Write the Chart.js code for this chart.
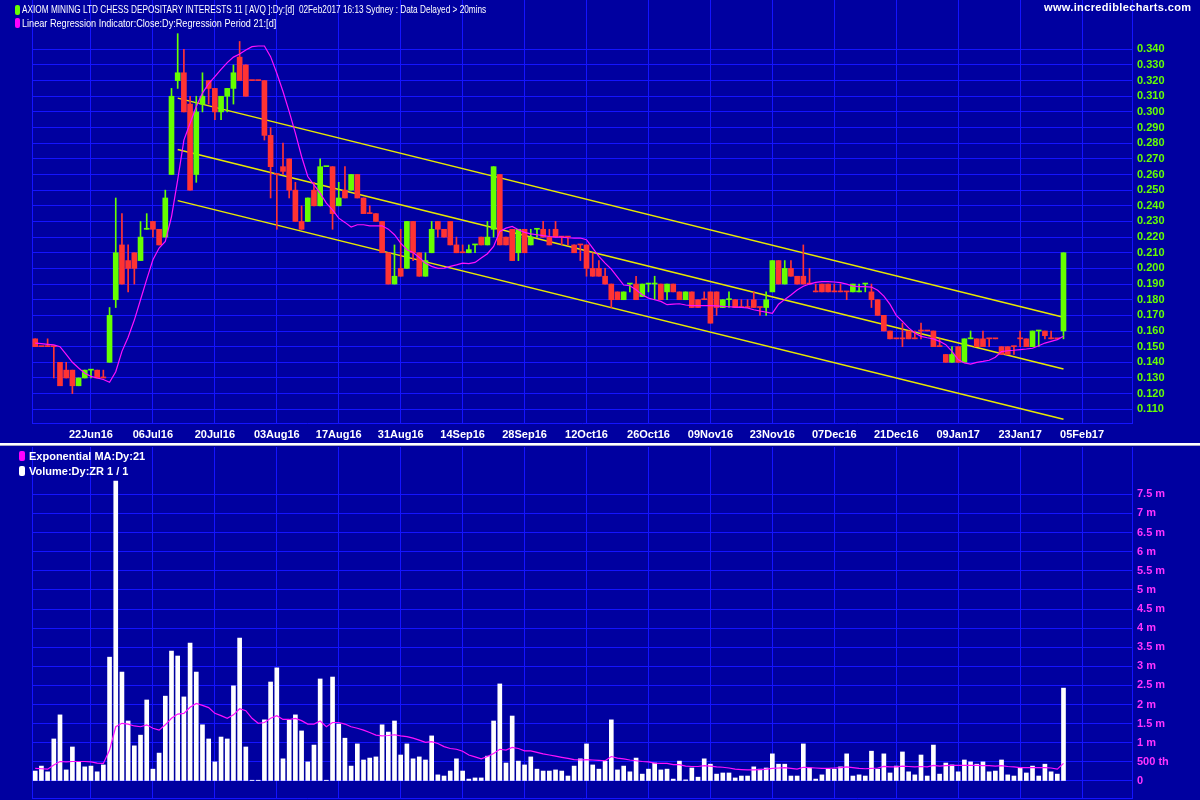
<!DOCTYPE html>
<html>
<head>
<meta charset="utf-8">
<script src="https://cdn.jsdelivr.net/npm/chart.js@4.4.1/dist/chart.umd.min.js"></script>
<style>
  html, body { margin: 0; padding: 0; background: #0000a0; }
  #wrap { position: relative; width: 1200px; height: 800px; overflow: hidden; background: #0000a0;
          font-family: "Liberation Sans", Arial, sans-serif; }
  #top { position: absolute; left: 0; top: 0; width: 1200px; height: 445px; }
  #bot { position: absolute; left: 0; top: 447px; width: 1200px; height: 353px; }
  .sep { position: absolute; left: 0; top: 443px; width: 1200px; height: 2px; background: #ffffff; }
  .sep2 { position: absolute; left: 0; top: 445px; width: 1200px; height: 1px; background: #a8a8c8; }
  .lg { position: absolute; color: #fff; font-size: 11px; line-height: 13px; white-space: nowrap; z-index: 5; }
  .narrow { transform: scaleX(0.83); transform-origin: left center; }
  .narrower { transform: scaleX(0.75); transform-origin: left center; }
  .mk { position: absolute; width: 5px; height: 10px; border-radius: 2px; z-index: 5; }
</style>
</head>
<body>
<div id="wrap">
  <div id="top"><canvas id="priceChart"></canvas></div>
  <div class="sep"></div><div class="sep2"></div>
  <div id="bot"><canvas id="volChart"></canvas></div>

  <div class="mk" style="left:15px;top:5px;background:#66ff00"></div>
  <div class="lg narrower" style="left:22px;top:3px">AXIOM MINING LTD CHESS DEPOSITARY INTERESTS 11 [ AVQ ]:Dy:[d]&nbsp; 02Feb2017 16:13 Sydney : Data Delayed &gt; 20mins</div>
  <div class="mk" style="left:15px;top:18px;background:#ff00ff"></div>
  <div class="lg narrow" style="left:22px;top:17px">Linear Regression Indicator:Close:Dy:Regression Period 21:[d]</div>
  <div class="lg" style="left:1044px;top:1px;font-weight:bold;letter-spacing:0.35px">www.incrediblecharts.com</div>

  <div class="mk" style="left:19px;top:451px;width:6px;background:#ff00ff"></div>
  <div class="lg" style="left:29px;top:450px;font-weight:bold">Exponential MA:Dy:21</div>
  <div class="mk" style="left:19px;top:466px;width:6px;background:#ffffff"></div>
  <div class="lg" style="left:29px;top:465px;font-weight:bold">Volume:Dy:ZR 1 / 1</div>
</div>

<script>
const UP = "#66ff00";
const DOWN = "#ff3333";
const GRID = "#1414ff";

// x axis: bar index, labelled every 10 trading days
const tickIdx = [9, 19, 29, 39, 49, 59, 69, 79, 89, 99, 109, 119, 129, 139, 149, 159, 169];
const tickText = ["22Jun16", "06Jul16", "20Jul16", "03Aug16", "17Aug16", "31Aug16", "14Sep16", "28Sep16",
  "12Oct16", "26Oct16", "09Nov16", "23Nov16", "07Dec16", "21Dec16", "09Jan17", "23Jan17", "05Feb17"];

const priceTicks = [0.11, 0.12, 0.13, 0.14, 0.15, 0.16, 0.17, 0.18, 0.19, 0.2, 0.21, 0.22,
  0.23, 0.24, 0.25, 0.26, 0.27, 0.28, 0.29, 0.3, 0.31, 0.32, 0.33, 0.34];
const volTicks = [0, 0.5, 1, 1.5, 2, 2.5, 3, 3.5, 4, 4.5, 5, 5.5, 6, 6.5, 7, 7.5];
const volTickText = ["0", "500 th", "1 m", "1.5 m", "2 m", "2.5 m", "3 m", "3.5 m", "4 m", "4.5 m",
  "5 m", "5.5 m", "6 m", "6.5 m", "7 m", "7.5 m"];

// daily candles
const openP = [
  .155,.150,.150,.150,.140,.135,.135,.125,.130,.135,.135,.130,.140,.180,.215,.205,.210,.205,.225,.230,
  .225,.220,.260,.320,.325,.305,.260,.305,.320,.315,.300,.310,.315,.335,.330,.320,.320,.320,.285,.260,
  .265,.270,.250,.230,.230,.250,.240,.265,.265,.240,.250,.250,.260,.245,.235,.235,.230,.210,.190,.200,
  .200,.230,.210,.195,.210,.230,.225,.230,.215,.210,.210,.215,.220,.215,.225,.260,.220,.225,.210,.225,
  .215,.225,.225,.220,.225,.220,.220,.215,.215,.215,.200,.200,.195,.190,.185,.180,.190,.190,.182,.190,
  .190,.190,.185,.190,.185,.180,.185,.180,.180,.185,.185,.175,.180,.180,.175,.175,.180,.175,.175,.185,
  .205,.190,.200,.195,.195,.190,.185,.190,.190,.185,.185,.185,.185,.185,.190,.185,.180,.170,.160,.155,
  .155,.160,.155,.160,.160,.160,.150,.145,.140,.150,.140,.155,.155,.155,.155,.155,.150,.150,.150,.155,
  .155,.150,.160,.160,.155,.155,.160];
const highP = [
  .155,.150,.155,.150,.140,.140,.135,.130,.135,.135,.135,.135,.175,.245,.235,.215,.210,.230,.235,.230,
  .225,.250,.315,.350,.340,.310,.310,.325,.320,.315,.310,.315,.330,.345,.330,.320,.320,.320,.290,.260,
  .280,.270,.255,.240,.245,.255,.270,.265,.265,.255,.265,.260,.260,.245,.240,.235,.230,.210,.215,.225,
  .230,.230,.210,.210,.230,.230,.225,.230,.220,.215,.215,.215,.220,.230,.265,.260,.220,.225,.225,.225,
  .225,.225,.230,.225,.230,.220,.220,.215,.215,.215,.210,.205,.200,.190,.185,.185,.190,.195,.190,.190,
  .195,.190,.190,.190,.185,.185,.185,.180,.185,.185,.185,.180,.185,.180,.180,.180,.185,.175,.185,.205,
  .205,.205,.205,.195,.215,.200,.190,.190,.190,.190,.190,.185,.190,.190,.190,.190,.180,.170,.160,.155,
  .165,.160,.160,.165,.160,.160,.155,.145,.150,.150,.155,.160,.155,.160,.155,.155,.150,.150,.150,.160,
  .155,.160,.160,.160,.160,.155,.210];
const lowP = [
  .150,.150,.150,.130,.125,.130,.120,.125,.130,.130,.130,.130,.140,.175,.190,.185,.190,.205,.225,.220,
  .215,.220,.260,.315,.300,.250,.255,.300,.305,.295,.295,.300,.305,.320,.310,.320,.320,.282,.245,.225,
  .260,.245,.230,.225,.230,.240,.240,.265,.225,.240,.245,.250,.245,.235,.235,.230,.210,.190,.190,.195,
  .200,.205,.195,.195,.210,.220,.220,.215,.210,.210,.210,.210,.215,.215,.220,.215,.215,.205,.205,.210,
  .215,.220,.220,.215,.220,.215,.215,.210,.205,.195,.195,.195,.190,.175,.180,.180,.185,.180,.182,.185,
  .180,.180,.180,.185,.180,.180,.175,.175,.180,.165,.170,.175,.175,.175,.175,.175,.175,.170,.170,.185,
  .190,.190,.195,.190,.190,.190,.185,.185,.185,.185,.185,.180,.185,.185,.185,.175,.170,.160,.155,.155,
  .150,.155,.155,.155,.160,.150,.150,.140,.140,.140,.140,.155,.150,.150,.150,.155,.145,.145,.145,.150,
  .150,.150,.150,.155,.155,.155,.155];
const closeP = [
  .150,.150,.150,.150,.125,.130,.125,.130,.135,.135,.130,.130,.170,.210,.190,.200,.200,.220,.225,.225,
  .215,.245,.310,.325,.300,.250,.300,.310,.315,.300,.310,.315,.325,.320,.310,.320,.320,.285,.265,.260,
  .262,.250,.230,.225,.245,.240,.265,.265,.235,.245,.245,.260,.245,.235,.235,.230,.210,.190,.195,.195,
  .230,.210,.195,.205,.225,.225,.220,.215,.210,.210,.212,.215,.215,.220,.265,.215,.215,.205,.225,.210,
  .220,.225,.220,.215,.220,.220,.220,.210,.215,.200,.195,.195,.190,.180,.180,.185,.190,.180,.190,.190,
  .190,.180,.190,.185,.180,.185,.175,.175,.180,.165,.175,.180,.180,.175,.175,.175,.175,.175,.180,.205,
  .190,.200,.195,.190,.190,.190,.185,.185,.185,.185,.185,.185,.190,.185,.190,.180,.170,.160,.155,.155,
  .155,.155,.155,.160,.160,.150,.150,.140,.145,.140,.155,.155,.150,.150,.155,.155,.145,.145,.150,.155,
  .150,.160,.160,.157,.155,.155,.210];

// linear regression indicator (close, 21)
const lri = [
  .1523,.1519,.1515,.1511,.150,.145,.140,.1364,.133,.131,.130,.129,.1273,.134,.147,.156,.167,.180,.193,.2055,
  .213,.2172,.233,.2566,.282,.2928,.3034,.312,.318,.3226,.3272,.3315,.335,.337,.3396,.3417,.3421,.3421,.3353,.3247,
  .313,.3002,.2864,.2715,.2587,.2534,.2481,.2417,.2374,.2321,.2294,.2264,.2279,.2279,.2272,.2272,.2272,.2251,.2215,.2162,
  .2119,.2102,.207,.2034,.2013,.200,.2002,.2013,.2023,.2034,.203,.2038,.2066,.2094,.214,.2236,.2257,.2268,.2247,.223,
  .2221,.2215,.2209,.2204,.220,.220,.2196,.2194,.2194,.2183,.213,.2077,.2034,.1996,.1945,.1894,.1889,.1864,.1832,.181,
  .180,.1789,.1768,.1772,.1774,.1766,.1762,.1762,.1762,.1762,.176,.1757,.1755,.1753,.1751,.1747,.1736,.1728,.1721,.1713,
  .1771,.1802,.183,.1862,.1886,.190,.1911,.1915,.1915,.1913,.1909,.190,.1887,.1883,.1883,.1881,.186,.1823,.177,.170,
  .1662,.162,.1587,.1566,.1557,.155,.1534,.1513,.147,.1417,.1396,.1389,.140,.1406,.1413,.1432,.1468,.1474,.1477,.1481,
  .1485,.149,.1506,.1523,.1534,.1545,.1566];

// regression channel end points
const chanX = [23, 166];
const chanUpper = [0.3088, 0.1688];
const chanMid = [0.2760, 0.1357];
const chanLower = [0.2433, 0.1036];

// volume, millions
const volume = [
  .26,.39,.24,1.10,1.73,.29,.89,.50,.37,.39,.24,.42,3.24,7.85,2.85,1.57,.92,1.20,2.12,.31,
  .73,2.22,3.40,3.27,2.20,3.61,2.85,1.47,1.10,.50,1.15,1.10,2.49,3.74,.89,.02,.02,1.60,2.59,2.96,
  .58,1.60,1.73,1.31,.50,.94,2.67,.02,2.72,1.49,1.12,.39,.97,.55,.60,.63,1.47,1.28,1.57,.68,
  .97,.58,.63,.55,1.18,.16,.13,.26,.58,.26,.05,.08,.08,.65,1.57,2.54,.47,1.70,.52,.42,
  .63,.31,.26,.26,.29,.26,.13,.39,.58,.97,.42,.31,.52,1.60,.29,.39,.24,.60,.18,.31,
  .47,.29,.31,.05,.52,.03,.34,.10,.58,.44,.18,.21,.21,.08,.13,.13,.37,.31,.34,.71,
  .44,.44,.13,.13,.97,.34,.05,.16,.31,.31,.37,.71,.13,.16,.13,.78,.31,.71,.21,.39,
  .76,.24,.16,.68,.13,.94,.18,.47,.42,.24,.55,.50,.44,.50,.24,.26,.55,.16,.13,.34,
  .21,.39,.13,.44,.24,.18,2.43];

// exponential MA of volume (21)
const volEma = [
  .33,.32,.31,.42,.51,.50,.51,.51,.51,.50,.47,.46,.81,1.42,1.51,1.49,1.44,1.42,1.47,1.38,
  1.33,1.47,1.64,1.75,1.77,1.93,2.03,1.98,1.92,1.77,1.71,1.64,1.73,1.89,1.84,1.64,1.51,1.53,1.64,1.71,
  1.61,1.61,1.64,1.58,1.49,1.49,1.57,1.42,1.53,1.53,1.49,1.42,1.38,1.33,1.27,1.20,1.18,1.19,1.21,1.18,
  1.16,1.12,1.07,1.01,1.03,.98,.90,.85,.83,.78,.68,.63,.58,.64,.72,.83,.81,.88,.85,.79,
  .79,.75,.71,.68,.65,.62,.59,.56,.55,.56,.55,.54,.53,.64,.60,.58,.55,.53,.51,.50,
  .47,.46,.46,.43,.43,.39,.38,.38,.40,.39,.37,.36,.34,.31,.30,.29,.29,.30,.31,.33,
  .34,.35,.33,.31,.36,.35,.34,.33,.33,.34,.35,.37,.35,.33,.32,.33,.34,.38,.37,.37,
  .39,.38,.37,.38,.37,.41,.39,.40,.41,.41,.41,.41,.41,.40,.40,.39,.40,.38,.37,.35,
  .35,.35,.35,.35,.34,.31,.46];

// candle colour: up green, down red, unchanged keeps the previous colour
const candleColor = [];
for (let i = 0; i < closeP.length; i++) {
  if (closeP[i] > openP[i]) candleColor.push(UP);
  else if (closeP[i] < openP[i]) candleColor.push(DOWN);
  else candleColor.push(i ? candleColor[i - 1] : DOWN);
}

const frame = {
  id: "frame",
  beforeDatasetsDraw(chart) {
    const { ctx, chartArea: a } = chart;
    ctx.save();
    ctx.strokeStyle = GRID;
    ctx.lineWidth = 1;
    ctx.beginPath();
    ctx.moveTo(Math.round(a.left) + 0.5, a.top);
    ctx.lineTo(Math.round(a.left) + 0.5, a.bottom);
    ctx.stroke();
    ctx.restore();
  },
};

const tickFont = { family: "Liberation Sans", size: 11, weight: "bold" };

function xScale(showLabels, axisHeight) {
  return {
    type: "linear",
    min: -0.52,
    max: 177.06,
    offset: false,
    afterBuildTicks: (s) => { s.ticks = tickIdx.map((v) => ({ value: v })); },
    afterFit: (s) => { s.height = axisHeight; },
    ticks: {
      display: showLabels,
      color: "#ffffff",
      font: tickFont,
      padding: 5,
      maxRotation: 0,
      autoSkip: false,
      callback: (v) => tickText[tickIdx.indexOf(v)],
    },
    grid: { color: GRID, drawTicks: false, offset: false },
    border: { color: GRID },
  };
}

function yRight(min, max, ticks, labelFn, color) {
  return {
    position: "right",
    min: min,
    max: max,
    afterBuildTicks: (s) => { s.ticks = ticks.map((v) => ({ value: v })); },
    afterFit: (s) => { s.width = 68; s.paddingTop = 0; s.paddingBottom = 0; },
    ticks: { color: color, font: tickFont, padding: 5, callback: labelFn },
    grid: { color: GRID, drawTicks: false },
    border: { color: GRID },
  };
}

const common = {
  responsive: true,
  maintainAspectRatio: false,
  animation: false,
  events: [],
  plugins: { legend: { display: false }, tooltip: { enabled: false } },
};

new Chart(document.getElementById("priceChart"), {
  type: "bar",
  data: {
    datasets: [
      {
        type: "line",
        data: chanX.map((x, k) => ({ x: x, y: chanUpper[k] })),
        borderColor: "#e8e800", borderWidth: 1.5, pointRadius: 0, order: 5,
      },
      {
        type: "line",
        data: chanX.map((x, k) => ({ x: x, y: chanMid[k] })),
        borderColor: "#e8e800", borderWidth: 1.5, pointRadius: 0, order: 5,
      },
      {
        type: "line",
        data: chanX.map((x, k) => ({ x: x, y: chanLower[k] })),
        borderColor: "#e8e800", borderWidth: 1.5, pointRadius: 0, order: 5,
      },
      {
        label: "wick",
        data: lowP.map((l, i) => ({ x: i, y: [l, highP[i]] })),
        backgroundColor: candleColor,
        barThickness: 1, grouped: false, minBarLength: 0, order: 3,
      },
      {
        label: "body",
        data: openP.map((o, i) => ({ x: i, y: [o, closeP[i]] })),
        backgroundColor: candleColor,
        barThickness: 5, grouped: false, minBarLength: 1, order: 2,
      },
      {
        type: "line",
        data: lri.map((v, i) => ({ x: i, y: v })),
        borderColor: "#ff10ff", borderWidth: 1.2, pointRadius: 0, tension: 0, order: 0,
      },
    ],
  },
  options: {
    ...common,
    layout: { padding: { left: 32, top: 0, right: 0, bottom: 0 } },
    scales: {
      x: xScale(true, 22),
      y: yRight(0.10122, 0.3715, priceTicks, (v) => Number(v).toFixed(3), "#66ff00"),
    },
  },
  plugins: [frame],
});

new Chart(document.getElementById("volChart"), {
  type: "bar",
  data: {
    datasets: [
      {
        data: volume.map((v, i) => ({ x: i, y: v })),
        backgroundColor: "#ffffff",
        barThickness: 4, grouped: false, order: 2,
      },
      {
        type: "line",
        data: volEma.map((v, i) => ({ x: i, y: v })),
        borderColor: "#ff10ff", borderWidth: 1.2, pointRadius: 0, tension: 0, order: 0,
      },
    ],
  },
  options: {
    ...common,
    layout: { padding: { left: 32, top: 0, right: 0, bottom: 0 } },
    scales: {
      x: xScale(false, 2),
      y: yRight(-0.4448, 8.739, volTicks, (v) => volTickText[volTicks.indexOf(v)], "#ff33ff"),
    },
  },
  plugins: [frame],
});
</script>
</body>
</html>
